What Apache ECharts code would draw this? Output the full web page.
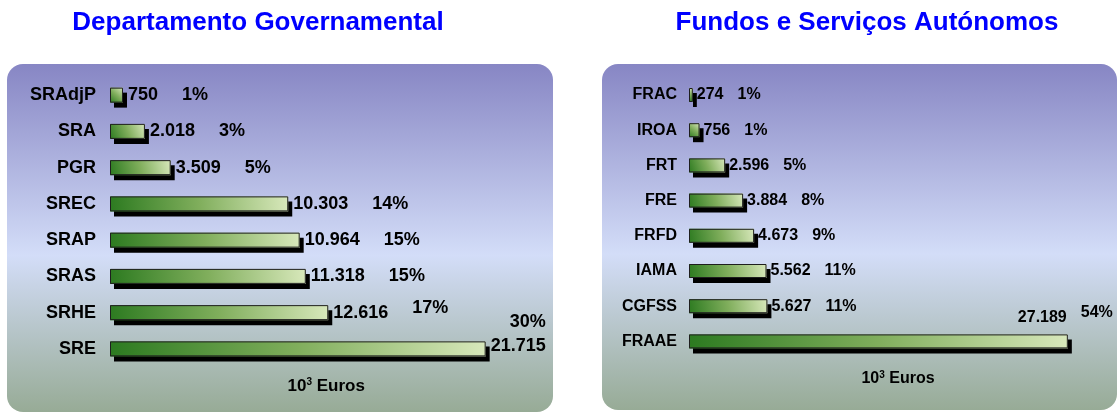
<!DOCTYPE html>
<html>
<head>
<meta charset="utf-8">
<script src="https://cdn.jsdelivr.net/npm/echarts@6/dist/echarts.min.js"></script>
<style>
  html, body { margin: 0; padding: 0; background: #fff; }
  #chart { width: 1117px; height: 412px; }
</style>
</head>
<body>
<div id="chart"></div>
<script>
// dados
const deptCategories = ['SRAdjP', 'SRA', 'PGR', 'SREC', 'SRAP', 'SRAS', 'SRHE', 'SRE']
const deptValues = [750, 2018, 3509, 10303, 10964, 11318, 12616, 21715]
const deptPercents = [1, 3, 5, 14, 15, 15, 17, 30]

const fundCategories = ['FRAC', 'IROA', 'FRT', 'FRE', 'FRFD', 'IAMA', 'CGFSS', 'FRAAE']
const fundValues = [274, 756, 2596, 3884, 4673, 5562, 5627, 27189]
const fundPercents = [1, 1, 5, 8, 9, 11, 11, 54]

const titles = ['Departamento Governamental', 'Fundos e Serviços Autónomos']

const FONT = '"Liberation Sans", Arial, sans-serif'

// 21715 -> 21.715
const fmt = (v) => String(v).replace(/\B(?=(\d{3})+(?!\d))/g, '.')

const chart = echarts.init(document.getElementById('chart'))

const panelFill = new echarts.graphic.LinearGradient(0, 0, 0, 1, [
  { offset: 0, color: '#8786c4' },
  { offset: 0.55, color: '#d3ddf8' },
  { offset: 1, color: '#97ab96' }
])

const barFill = new echarts.graphic.LinearGradient(0, 1, 1, 0, [
  { offset: 0, color: '#2c7a20' },
  { offset: 0.5, color: '#80ae5c' },
  { offset: 1, color: '#d8e8bb' }
])

// preenchimento + sombra (sem contorno, senão a sombra do contorno cai por cima)
const barStyle = {
  color: barFill,
  borderWidth: 0,
  shadowColor: '#000',
  shadowBlur: 0,
  shadowOffsetX: 4,
  shadowOffsetY: 5
}

// contorno por cima, sem sombra
const outlineStyle = {
  color: 'rgba(0,0,0,0)',
  borderColor: '#1e1e1e',
  borderWidth: 1
}

const richText = (size, gap) => ({
  v: { fontSize: size, fontWeight: 'bold', fontFamily: FONT, color: '#000' },
  p: { fontSize: size, fontWeight: 'bold', fontFamily: FONT, color: '#000', padding: [0, 0, 0, gap] },
  pu: { fontSize: size, fontWeight: 'bold', fontFamily: FONT, color: '#000', padding: [0, 0, 10, gap] },
  pt: { fontSize: size, fontWeight: 'bold', fontFamily: FONT, color: '#000', align: 'right', lineHeight: 20, padding: [0, 0, 7, 0] },
  vr: { fontSize: size, fontWeight: 'bold', fontFamily: FONT, color: '#000', align: 'right', lineHeight: 20 }
})

const axisName = (size) => ({
  a: { fontSize: size, fontWeight: 'bold', fontFamily: FONT, color: '#000' },
  s: { fontSize: Math.round(size * 0.6), fontWeight: 'bold', fontFamily: FONT, color: '#000', padding: [0, 0, 8, 0] }
})

const last = deptValues.length - 1

const option = {
  animation: false,
  title: [
    {
      text: titles[0], left: 258, top: 10, textAlign: 'center', padding: 0,
      textStyle: { color: '#0000ff', fontSize: 26, fontWeight: 'bold', fontFamily: FONT }
    },
    {
      text: titles[1], left: 867, top: 10, textAlign: 'center', padding: 0,
      textStyle: { color: '#0000ff', fontSize: 26, fontWeight: 'bold', fontFamily: FONT }
    }
  ],
  graphic: [
    { type: 'rect', z: -10, shape: { x: 7, y: 64, width: 546, height: 348, r: 16 }, style: { fill: panelFill } },
    { type: 'rect', z: -10, shape: { x: 602, y: 64, width: 515, height: 346, r: 16 }, style: { fill: panelFill } }
  ],
  grid: [
    { left: 110, top: 77, width: 432.5, height: 290 },
    { left: 689, top: 77.4, width: 418, height: 281.6 }
  ],
  xAxis: [
    {
      gridIndex: 0, type: 'value', min: 0, max: 25000,
      axisLine: { show: false }, axisTick: { show: false }, axisLabel: { show: false }, splitLine: { show: false },
      name: '{a|10}{s|3}{a| Euros}', nameLocation: 'middle', nameGap: 10,
      nameTextStyle: { rich: axisName(17) }
    },
    {
      gridIndex: 1, type: 'value', min: 0, max: 30000,
      axisLine: { show: false }, axisTick: { show: false }, axisLabel: { show: false }, splitLine: { show: false },
      name: '{a|10}{s|3}{a| Euros}', nameLocation: 'middle', nameGap: 11,
      nameTextStyle: { rich: axisName(16) }
    }
  ],
  yAxis: [
    {
      gridIndex: 0, type: 'category', inverse: true, data: deptCategories,
      axisLine: { show: false }, axisTick: { show: false },
      axisLabel: { margin: 14, color: '#000', fontSize: 18, fontWeight: 'bold', fontFamily: FONT }
    },
    {
      gridIndex: 1, type: 'category', inverse: true, data: fundCategories,
      axisLine: { show: false }, axisTick: { show: false },
      axisLabel: { margin: 12, color: '#000', fontSize: 16, fontWeight: 'bold', fontFamily: FONT }
    }
  ],
  series: [
    {
      name: 'Departamento Governamental',
      type: 'bar',
      xAxisIndex: 0,
      yAxisIndex: 0,
      barWidth: 15,
      itemStyle: barStyle,
      data: deptValues.map((v, i) => i === last ? { value: v, label: { offset: [0, -13] } } : v),
      label: {
        show: true,
        position: 'right',
        distance: 5,
        formatter: (p) => {
          const i = p.dataIndex
          if (i === last) return `{pt|${deptPercents[i]}%}\n{vr|${fmt(p.value)}}`
          return `{v|${fmt(p.value)}}{${i === 6 ? 'pu' : 'p'}|${deptPercents[i]}%}`
        },
        rich: richText(18, 24)
      }
    },
    {
      type: 'bar',
      xAxisIndex: 0,
      yAxisIndex: 0,
      barWidth: 15,
      barGap: '-100%',
      silent: true,
      itemStyle: outlineStyle,
      data: deptValues
    },
    {
      name: 'Fundos e Serviços Autónomos',
      type: 'bar',
      xAxisIndex: 1,
      yAxisIndex: 1,
      barWidth: 14,
      itemStyle: barStyle,
      data: fundValues.map((v, i) => i === last
        ? { value: v, label: { position: ['100%', 0], align: 'left', verticalAlign: 'bottom', offset: [-50, -4] } }
        : v),
      label: {
        show: true,
        position: 'right',
        distance: 4,
        formatter: (p) => {
          const i = p.dataIndex
          return `{v|${fmt(p.value)}}{${i === last ? 'pu' : 'p'}|${fundPercents[i]}%}`
        },
        rich: richText(16, 14)
      }
    },
    {
      type: 'bar',
      xAxisIndex: 1,
      yAxisIndex: 1,
      barWidth: 14,
      barGap: '-100%',
      silent: true,
      itemStyle: outlineStyle,
      data: fundValues
    }
  ]
}

chart.setOption(option)
</script>
</body>
</html>
